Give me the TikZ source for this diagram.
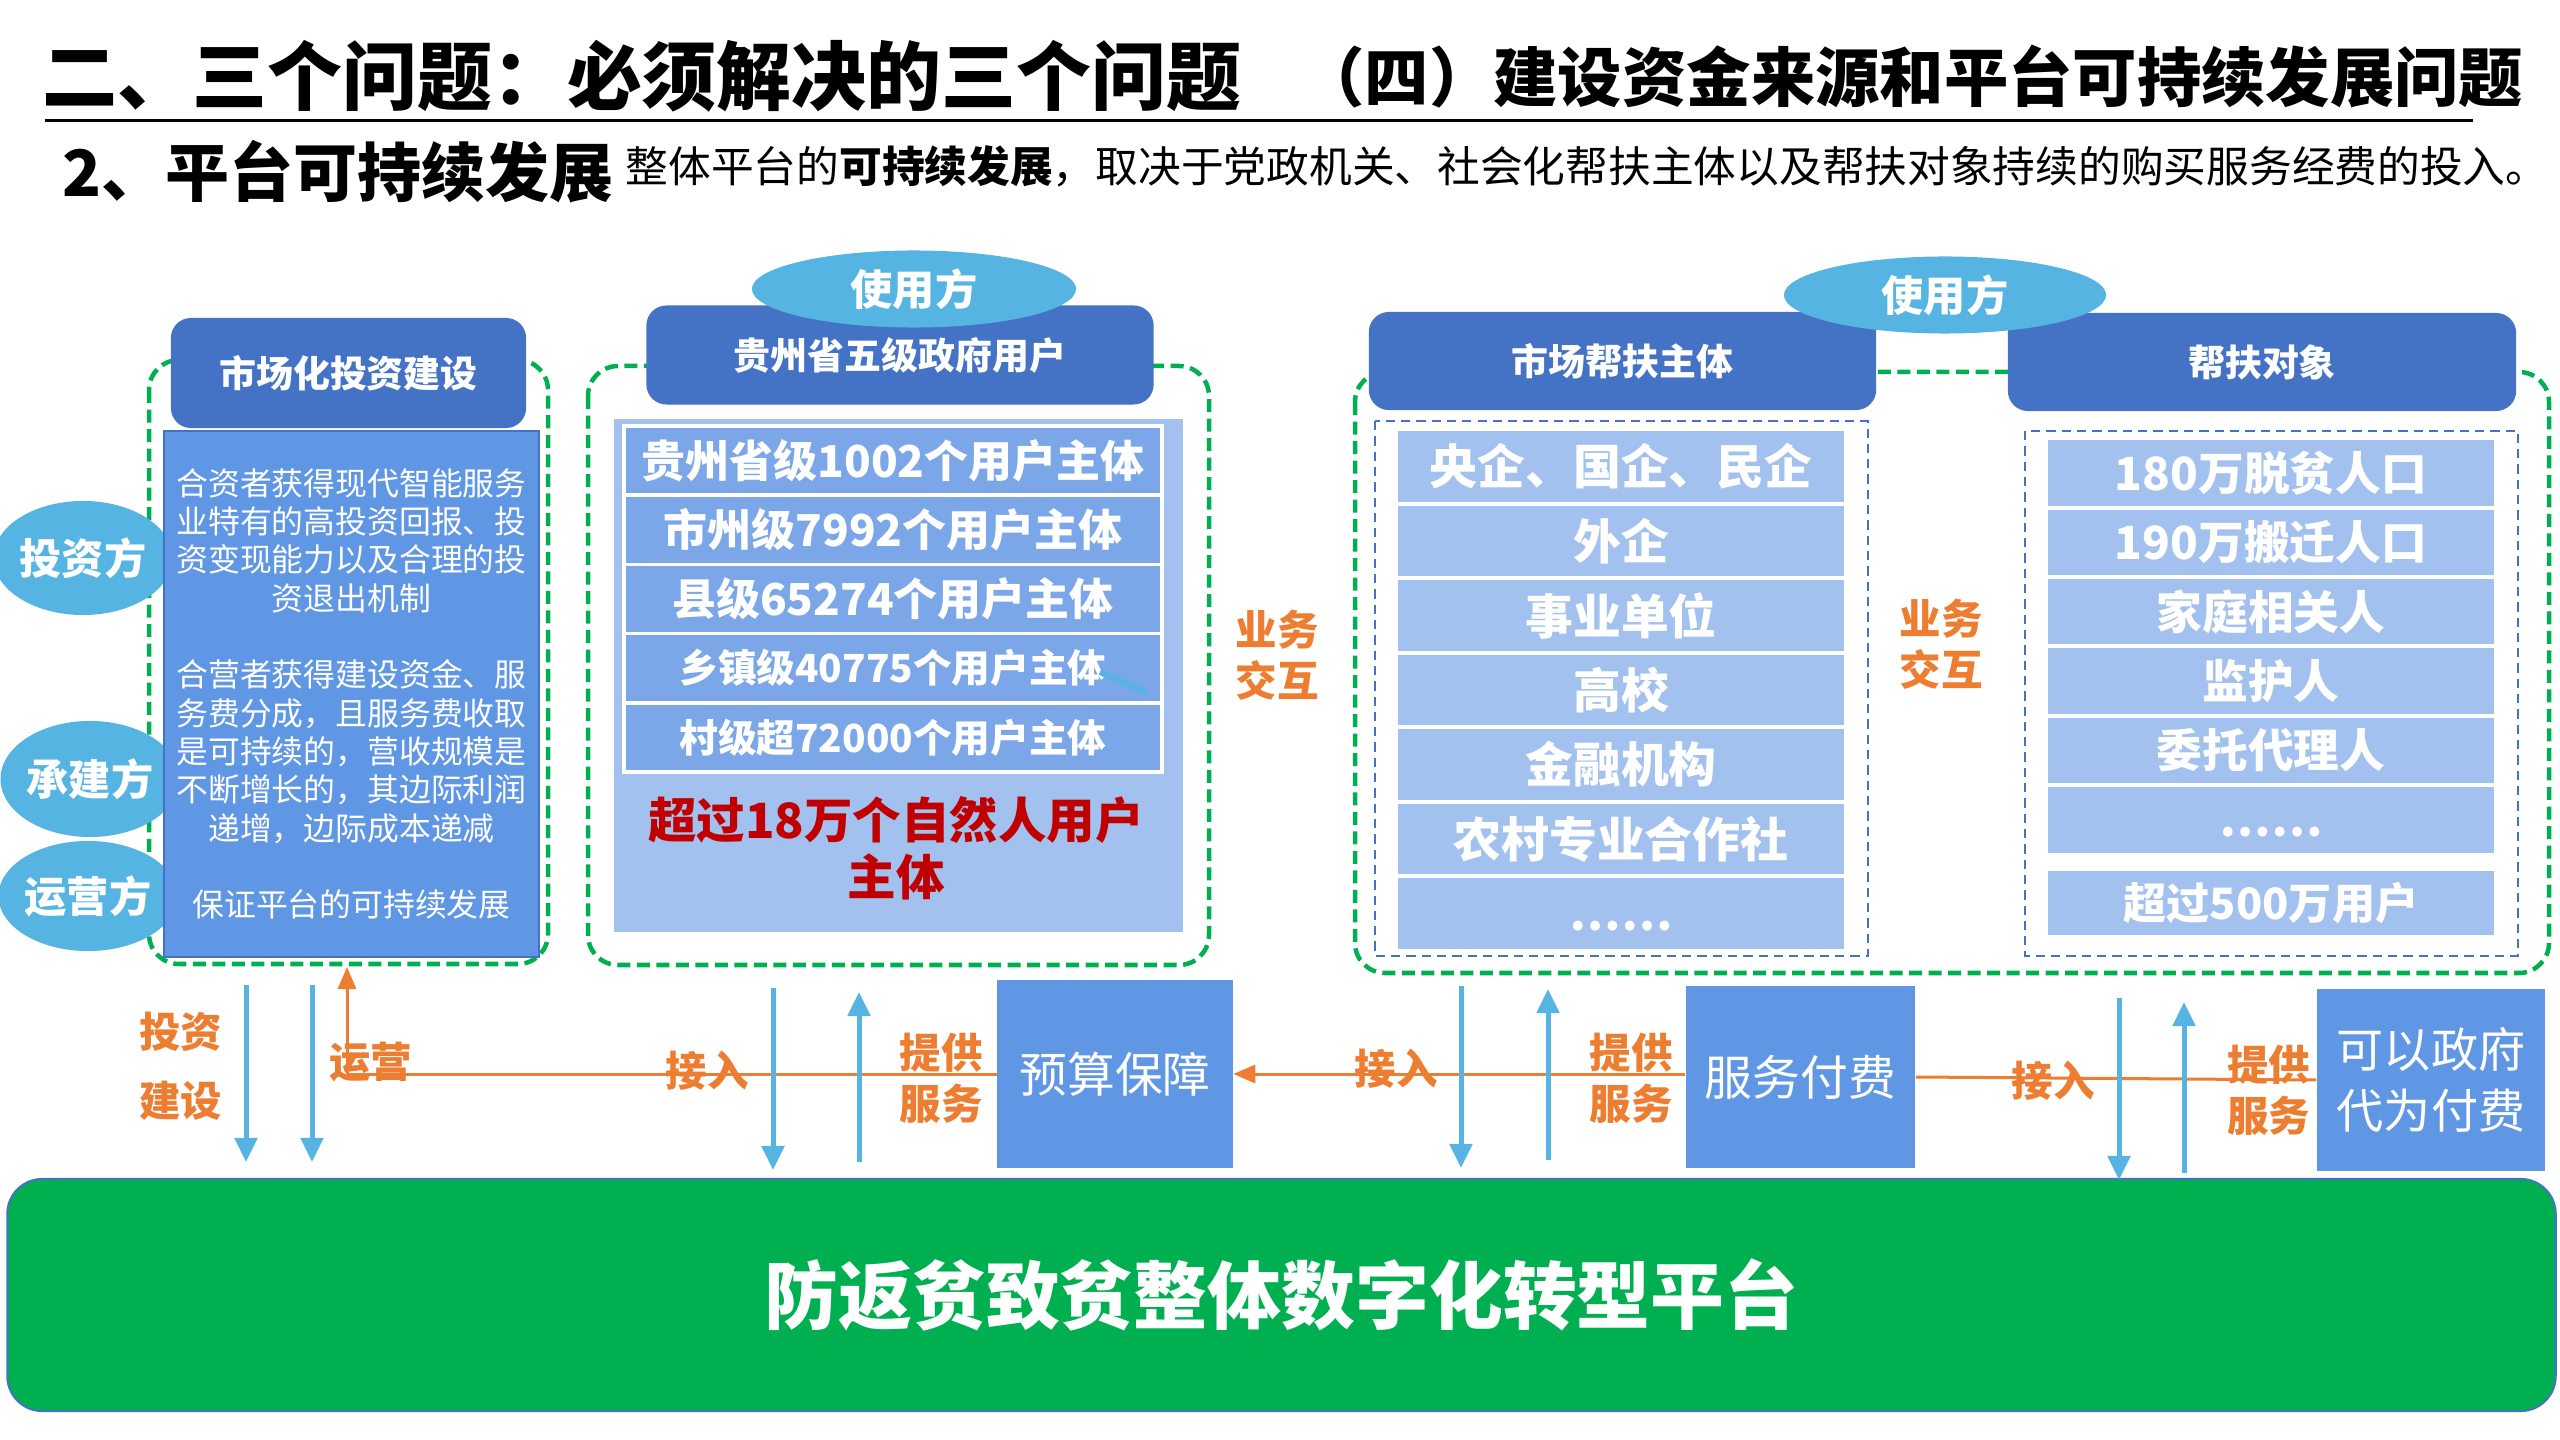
\documentclass[tikz,border=0pt]{standalone}
\usepackage{fontspec}
\setmainfont{Noto Sans CJK SC}
\usetikzlibrary{shapes.geometric,arrows.meta}

\definecolor{hdrblue}{HTML}{4472C4}
\definecolor{bodyblue}{HTML}{6097E4}
\definecolor{rowblue}{HTML}{7BA7E9}
\definecolor{paleblue}{HTML}{A2C1EE}
\definecolor{skyblue}{HTML}{56B4E2}
\definecolor{fgreen}{HTML}{00B050}
\definecolor{dorange}{HTML}{ED7D31}
\definecolor{dred}{HTML}{C00000}

\begin{document}
\begin{tikzpicture}[x=0.01cm, y=-0.01cm,
    hdr/.style={fill=hdrblue, rounded corners=0.2cm, text=white, inner sep=0,
        font=\bfseries\fontsize{10.5}{12}\selectfont},
    useell/.style={ellipse, fill=skyblue, text=white, inner sep=0,
        font=\bfseries\fontsize{12}{14}\selectfont},
    grnbox/.style={draw=fgreen, line width=0.045cm, dash pattern=on 0.13cm off 0.065cm, rounded corners=0.3cm},
    bluebox/.style={draw=hdrblue, line width=0.027cm, dash pattern=on 0.093cm off 0.06cm},
    midrow/.style={fill=rowblue, draw=white, line width=0.035cm, text=white, inner sep=0,
        minimum width=5.38cm, minimum height=0.692cm},
    palerow/.style={fill=paleblue, draw=white, line width=0.04cm, text=white, inner sep=0,
        font=\bfseries\fontsize{13.6}{14}\selectfont},
    olbl/.style={text=dorange, align=center, inner sep=0,
        font=\bfseries\fontsize{11.8}{14.5}\selectfont},
    paybox/.style={fill=bodyblue, text=white, inner sep=0, align=center,
        font=\fontsize{13.6}{17.5}\selectfont},
    dnarr/.style={draw=skyblue, line width=0.05cm, -{Triangle[length=0.24cm, width=0.22cm]}},
    oline/.style={draw=dorange, line width=0.03cm},
    oarr/.style={oline, -{Triangle[length=0.22cm, width=0.18cm]}}]

    \useasboundingbox (0,0) rectangle (2560,1440);

    % titles
    \node[anchor=west, inner sep=0, font=\bfseries\fontsize{21.3}{21.3}\selectfont] (t1) at (42,76) {二、三个问题：必须解决的三个问题};
    \node[anchor=east, inner sep=0, font=\bfseries\fontsize{18.3}{18.3}\selectfont] (t2) at (2524,77) {（四）建设资金来源和平台可持续发展问题};
    \draw[line width=0.03cm] (45,121) -- (2473,121);
    \node[anchor=west, inner sep=0, font=\bfseries\fontsize{18.2}{18.2}\selectfont] (s1) at (62,172) {2、平台可持续发展};
    \node[anchor=west, inner sep=0, font=\fontsize{12.15}{12.15}\selectfont] (s2) at (625,166)
        {整体平台的\textbf{可持续发展}，取决于党政机关、社会化帮扶主体以及帮扶对象持续的购买服务经费的投入。};

    % left block
    \draw[grnbox] (149,360) rectangle (548,964);
    \node[useell, minimum width=1.6cm, minimum height=1.14cm] (inv) at (83,558) {投资方};
    \node[useell, minimum width=1.6cm, minimum height=1.16cm] (bld) at (90,779) {承建方};
    \node[useell, minimum width=1.5cm, minimum height=1.1cm] (opr) at (88,896) {运营方};
    \draw[fill=bodyblue, draw=hdrblue, line width=0.02cm] (164,431) rectangle (539,957);
    \node[hdr, minimum width=3.55cm, minimum height=1.1cm] (hdrinv) at (348.5,373) {市场化投资建设};
    \node[text=white, align=center, inner sep=0, font=\fontsize{9.05}{10.9}\selectfont] (invtxt) at (351.5,694)
        {合资者获得现代智能服务\\业特有的高投资回报、投\\资变现能力以及合理的投\\资退出机制\\[10.9pt]
         合营者获得建设资金、服\\务费分成，且服务费收取\\是可持续的，营收规模是\\不断增长的，其边际利润\\递增，边际成本递减\\[10.9pt]
         保证平台的可持续发展};

    % middle block
    \draw[grnbox] (588,366) rectangle (1209,965);
    \node[hdr, minimum width=5.07cm, minimum height=0.99cm] (hdrgov) at (900,355) {贵州省五级政府用户};
    \node[useell, minimum width=3.24cm, minimum height=0.77cm] (usemid) at (914,289) {使用方};
    \fill[paleblue] (614,419) rectangle (1183,932);
    \foreach \t/\s [count=\i] in {贵州省级1002个用户主体/12.5, 市州级7992个用户主体/12.5,
        县级65274个用户主体/12.5, 乡镇级40775个用户主体/11, 村级超72000个用户主体/11}
        \node[midrow, font=\bfseries\fontsize{\s}{\s}\selectfont] (g\i) at (893,{391.4+69.2*\i}) {\t};
    \draw[skyblue, line width=0.06cm] (1100,672) -- (1147,693);
    \node[text=dred, align=center, inner sep=0, font=\bfseries\fontsize{13.8}{16.2}\selectfont] (nat) at (896,848)
        {超过18万个自然人用户\\主体};

    \node[olbl] (xa) at (1277,655) {业务\\交互};

    % right block
    \draw[grnbox] (1355,372) rectangle (2549,973);
    \draw[bluebox] (1375,421) rectangle (1868,956);
    \draw[bluebox] (2025,431) rectangle (2518,956);
    \node[hdr, minimum width=5.07cm, minimum height=0.98cm] (hdrmkt) at (1622.5,361) {市场帮扶主体};
    \node[hdr, minimum width=5.08cm, minimum height=0.98cm] (hdrobj) at (2262,362) {帮扶对象};
    \node[useell, minimum width=3.22cm, minimum height=0.77cm] (useright) at (1945,295) {使用方};
    \foreach \t [count=\i] in {央企、国企、民企, 外企, 事业单位, 高校, 金融机构, 农村专业合作社, {}}
        \node[palerow, minimum width=4.5cm, minimum height=0.745cm] (m\i) at (1621,{392+74.5*\i}) {\t};
    \node[text=white, inner sep=0, font=\bfseries\fontsize{13}{13}\selectfont] (mdots) at (1621,926) {……};
    \node[olbl] (xb) at (1941,644) {业务\\交互};
    \foreach \t [count=\i] in {180万脱贫人口, 190万搬迁人口, 家庭相关人, 监护人, 委托代理人, {}}
        \node[palerow, minimum width=4.49cm, minimum height=0.694cm,
            font=\bfseries\fontsize{13}{13}\selectfont] (o\i) at (2271,{403.6+69.4*\i}) {\t};
    \node[palerow, minimum width=4.49cm, minimum height=0.67cm,
        font=\bfseries\fontsize{12.3}{13}\selectfont] (o7) at (2271,903) {超过500万用户};
    \node[text=white, inner sep=0, font=\bfseries\fontsize{13}{13}\selectfont] (odots) at (2271,832) {……};

    % platform and payment boxes
    \node[fill=fgreen, draw=hdrblue, line width=0.02cm, rounded corners=0.35cm, text=white,
        minimum width=25.47cm, minimum height=2.32cm, font=\bfseries\fontsize{21}{21}\selectfont] (platform) at (1281.5,1295)
        {防返贫致贫整体数字化转型平台};
    \node[paybox, minimum width=2.35cm, minimum height=1.87cm] (budget) at (1115,1074) {预算保障};
    \node[paybox, minimum width=2.29cm, minimum height=1.82cm] (svcpay) at (1800.5,1077) {服务付费};
    \node[paybox, minimum width=2.28cm, minimum height=1.82cm, font=\fontsize{13.4}{17.5}\selectfont] (govpay) at (2431,1080)
        {可以政府\\代为付费};

    % connectors
    \coordinate (opbase) at (347,1074);
    \coordinate (optop) at (347,967);
    \draw[oline] (opbase) -- (budget.west);
    \draw[oarr] (opbase) -- (optop);
    \draw[oarr] (svcpay.west |- budget.east) -- (budget.east);
    \draw[oline] (svcpay.east) -- (govpay.west);

    \foreach \x/\a/\b [count=\i] in {246/985/1162, 312/985/1162, 773/988/1170, 1461/986/1168, 2119/998/1180}{
        \coordinate (dn\i a) at (\x,\a);
        \coordinate (dn\i b) at (\x,\b);
        \draw[dnarr] (dn\i a) -- (dn\i b);
    }
    \foreach \x/\a/\b [count=\i] in {859/1162/992, 1548/1160/989, 2184/1173/1002}{
        \coordinate (up\i a) at (\x,\a);
        \coordinate (up\i b) at (\x,\b);
        \draw[dnarr] (up\i a) -- (up\i b);
    }

    % orange labels
    \node[olbl] (lb1) at (180.5,1032) {投资};
    \node[olbl] (lb2) at (180.5,1101) {建设};
    \node[olbl] (lb3) at (370.6,1062) {运营};
    \node[olbl] (lb4) at (707,1071) {接入};
    \node[olbl] (lb5) at (941,1078) {提供\\服务};
    \node[olbl] (lb6) at (1396,1069) {接入};
    \node[olbl] (lb7) at (1631,1078) {提供\\服务};
    \node[olbl] (lb8) at (2053,1081) {接入};
    \node[olbl] (lb9) at (2268.6,1090) {提供\\服务};

\end{tikzpicture}
\end{document}
